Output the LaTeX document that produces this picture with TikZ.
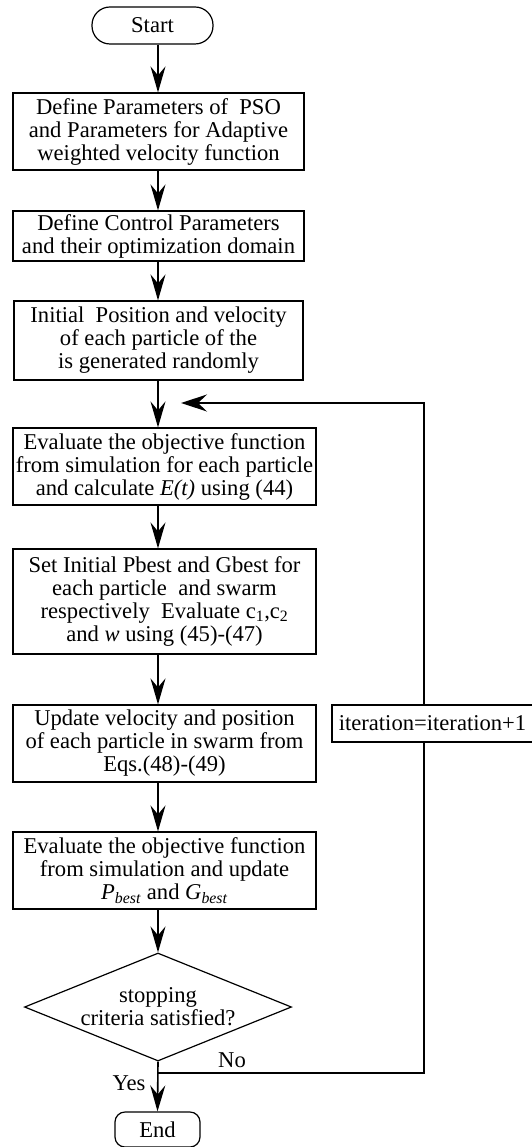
\documentclass[tikz,border=0pt]{standalone}
\usepackage{fontspec}
\setmainfont{Liberation Serif}
\usetikzlibrary{arrows.meta,shapes.geometric}

\tikzset{
  box/.style={draw, line width=1.2pt, inner sep=0pt},
  flow/.style={line width=1.6pt, -{Stealth[length=26pt,width=15pt,inset=9pt]}},
  loopline/.style={line width=1.3pt}
}

\begin{document}
\begin{tikzpicture}[x=1pt,y=-1pt,
  every node/.style={font=\fontsize{22.6}{23}\selectfont, align=center}]
\useasboundingbox (0,0) rectangle (531,1147);

%---------------- main column -----------------
\coordinate (spine) at (158,0);
\node[box, rounded corners=18pt, minimum width=121pt, minimum height=37pt] (start) at (152.5,25.5) {Start};
\node[box, minimum width=291pt, minimum height=77pt] (pso) at (158.5,131.5)
      {Define Parameters of \ PSO\\and Parameters for Adaptive\\weighted velocity function};
\node[box, minimum width=291pt, minimum height=50pt] (ctrl) at (158.5,236)
      {Define Control Parameters\\and their optimization domain};
\node[box, minimum width=289pt, minimum height=79pt] (init) at (158.5,340.5)
      {Initial \ Position and velocity\\of each particle of the\\is generated randomly};
\node[box, minimum width=303pt, minimum height=77pt] (eval) at (164.5,466.5)
      {Evaluate the objective function\\from simulation for each particle\\and calculate \textit{E(t)} using (44)};
\node[box, minimum width=303pt, minimum height=105pt] (best) at (164.5,601.5)
      {Set Initial Pbest and Gbest for\\each particle \ and swarm\\respectively \ Evaluate c\textsubscript{1},c\textsubscript{2}\\and \textit{w} using (45)-(47)};
\node[box, minimum width=303pt, minimum height=77pt] (upd) at (164.5,743.5)
      {Update velocity and position\\of each particle in swarm from\\Eqs.(48)-(49)};
\node[box, minimum width=303pt, minimum height=77pt] (reval) at (164.5,870.5)
      {Evaluate the objective function\\from simulation and update\\\textit{P}\textsubscript{\textit{best}} and \textit{G}\textsubscript{\textit{best}}};
\node[box, diamond, aspect=2.47, minimum width=267pt, minimum height=108pt] (stop) at (158,1007)
      {stopping\\criteria satisfied?};
\node[box, rounded corners=10pt, minimum width=85pt, minimum height=35pt] (end) at (157.5,1129.5) {End};

\draw[flow] (start.south -| spine) -- (pso.north -| spine);
\draw[flow] (pso.south -| spine) -- (ctrl.north -| spine);
\draw[flow] (ctrl.south -| spine) -- (init.north -| spine);
\draw[flow] (init.south -| spine) -- (eval.north -| spine);
\draw[flow] (eval.south -| spine) -- (best.north -| spine);
\draw[flow] (best.south -| spine) -- (upd.north -| spine);
\draw[flow] (upd.south -| spine) -- (reval.north -| spine);
\draw[flow] (reval.south -| spine) -- (stop.north);
\draw[flow] (stop.south) -- (end.north);

%---------------- loop back -----------------
\node[box, minimum width=201pt, minimum height=37pt] (iter) at (432.5,723.5) {iteration=iteration+1};
\coordinate (join) at (158,1073);
\coordinate (loop) at (424,1073);
\coordinate (back) at (181,403);
\draw[loopline] (join) -| (iter.south -| loop);
\draw[loopline, -{Stealth[length=26pt,width=17pt,inset=9pt]}] (iter.north -| loop) |- (back);
\node (no) at (232,1060) {No};
\node (yes) at (129,1083) {Yes};

\end{tikzpicture}
\end{document}
